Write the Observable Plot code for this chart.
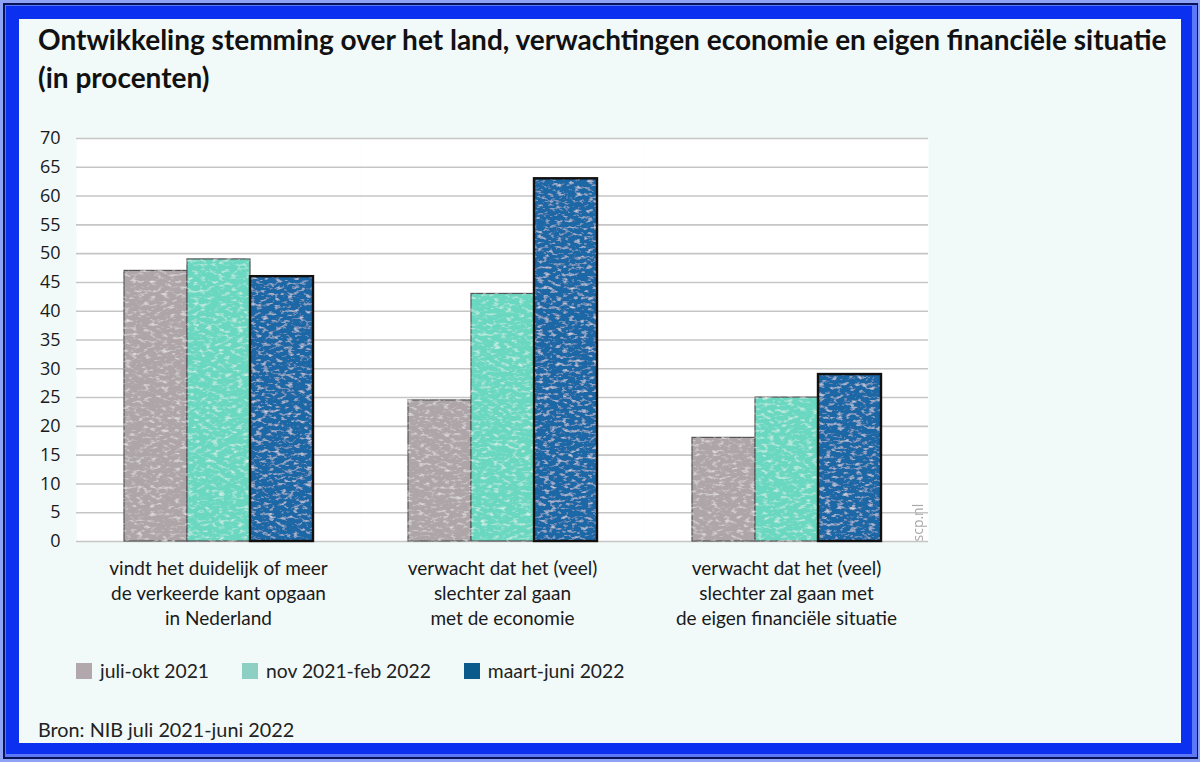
<!DOCTYPE html>
<html>
<head>
<meta charset="utf-8">
<script src="https://cdn.jsdelivr.net/npm/d3@7"></script>
<script src="https://cdn.jsdelivr.net/npm/@observablehq/plot@0.6"></script>
<style>
  body { margin: 0; background: #ffffff; }
  #frame { position: relative; width: 1200px; height: 762px; background: #8ea2f6; overflow: hidden; }
  #rim { position: absolute; left: 3px; top: 3px; width: 1195px; height: 756px; background: #081258; }
  #bevel { position: absolute; left: 5px; top: 5px; width: 1192px; height: 752px; background: #5c78f6; }
  #blue { position: absolute; left: 6px; top: 6px; width: 1186px; height: 748px; background: #0c30f0; }
  #content { position: absolute; left: 19px; top: 19px; width: 1162px; height: 724px; background: #f1f9f9; }
  #title { position: absolute; left: 38px; top: 20px; font-family: Lato, "Open Sans", sans-serif; font-weight: 700; font-size: 28px; line-height: 38px; color: #111; white-space: nowrap; }
  #chart { position: absolute; left: 0px; top: 110px; }
  #legend { position: absolute; left: 76px; top: 659px; display: flex; gap: 33px; font-family: Lato, "Open Sans", sans-serif; font-size: 19.3px; color: #222; }
  .item { display: flex; align-items: center; gap: 8px; }
  .sw { width: 16px; height: 16px; display: inline-block; }
  #source { position: absolute; left: 38px; top: 717px; font-family: Lato, "Open Sans", sans-serif; font-size: 19.8px; color: #222; }
</style>
</head>
<body>
<div id="frame">
  <div id="rim"></div>
  <div id="bevel"></div>
  <div id="blue"></div>
  <div id="content"></div>
  <div id="title">Ontwikkeling stemming over het land, verwachtingen economie en eigen financiële situatie<br>(in procenten)</div>
  <div id="chart"></div>
  <div id="legend"></div>
  <div id="source">Bron: NIB juli 2021-juni 2022</div>
</div>
<script>
const categories = [
  "vindt het duidelijk of meer\nde verkeerde kant opgaan\nin Nederland",
  "verwacht dat het (veel)\nslechter zal gaan\nmet de economie",
  "verwacht dat het (veel)\nslechter zal gaan met\nde eigen financiële situatie"
];
const periods = ["juli-okt 2021", "nov 2021-feb 2022", "maart-juni 2022"];
const valuesJuliOkt2021 = [47, 24.5, 18];
const valuesNov2021Feb2022 = [49, 43, 25];
const valuesMaartJuni2022 = [46, 63, 29];
const yTicks = [0, 5, 10, 15, 20, 25, 30, 35, 40, 45, 50, 55, 60, 65, 70];
const barColors = ["#aea5a9", "#6ad8c1", "#1a68a6"];
const legendColors = ["#b2a8ac", "#8dcfc3", "#0b5a8c"];
const watermark = "scp.nl";

const series = [valuesJuliOkt2021, valuesNov2021Feb2022, valuesMaartJuni2022];
const data = [];
categories.forEach((c, i) => periods.forEach((p, j) => data.push({category: c, period: p, value: series[j][i]})));

const chart = Plot.plot({
  width: 960,
  height: 530,
  marginLeft: 76,
  marginRight: 32,
  marginTop: 28,
  marginBottom: 99,
  style: {background: "transparent", fontFamily: "Lato, 'Open Sans', sans-serif", color: "#222"},
  fx: {domain: categories, padding: 0, label: null},
  x: {domain: periods, paddingInner: 0, paddingOuter: 0.75, axis: null},
  y: {domain: [0, 70], label: null},
  color: {domain: periods, range: barColors},
  marks: [
    Plot.frame({fill: "white", stroke: "none"}),
    Plot.gridY(yTicks, {stroke: "#c6c6c6", strokeOpacity: 1, strokeWidth: 1.6}),
    Plot.axisY(yTicks, {tickSize: 0, tickPadding: 16, fontSize: 18, fill: "#1a1a1a", fontFamily: "'Open Sans', sans-serif", label: null}),
    Plot.axisFx({anchor: "bottom", tickSize: 0, tickPadding: 15, fontSize: 19, lineHeight: 1.34, fill: "#1a1a1a", label: null}),
    Plot.barY(data, {fx: "category", x: "period", y: "value", fill: "period", stroke: "#555", strokeWidth: 1.2}),
    Plot.barY(data, {filter: d => d.period === periods[2], fx: "category", x: "period", y: "value", fill: "none", stroke: "#111", strokeWidth: 2.4}),
    Plot.text([{category: categories[2], t: watermark}], {fx: "category", text: "t", frameAnchor: "bottom-right", rotate: -90, textAnchor: "start", dx: -6, fill: "#a8a8a8", fontSize: 14, fontFamily: "'Open Sans', sans-serif"})
  ]
});

// crayon-like texture on the bars
const svg = d3.select(chart);
svg.insert("defs", ":first-child").html(`
  <filter id="crayon" x="-5%" y="-5%" width="110%" height="110%">
    <feTurbulence type="fractalNoise" baseFrequency="0.16 0.3" numOctaves="3" seed="7" result="n"/>
    <feColorMatrix in="n" type="matrix" values="0 0 0 0 1  0 0 0 0 1  0 0 0 0 1  1.7 0 0 0 -0.9" result="w"/>
    <feComposite in="w" in2="SourceAlpha" operator="in" result="wc"/>
    <feMerge><feMergeNode in="SourceGraphic"/><feMergeNode in="wc"/></feMerge>
  </filter>`);
svg.selectAll('g[aria-label="bar"]').filter((d, i) => i === 0).attr("filter", "url(#crayon)");

document.getElementById("chart").appendChild(chart);

const legend = d3.select("#legend");
periods.forEach((p, i) => {
  const item = legend.append("div").attr("class", "item");
  item.append("span").attr("class", "sw").style("background", legendColors[i]);
  item.append("span").text(p);
});
</script>
</body>
</html>
